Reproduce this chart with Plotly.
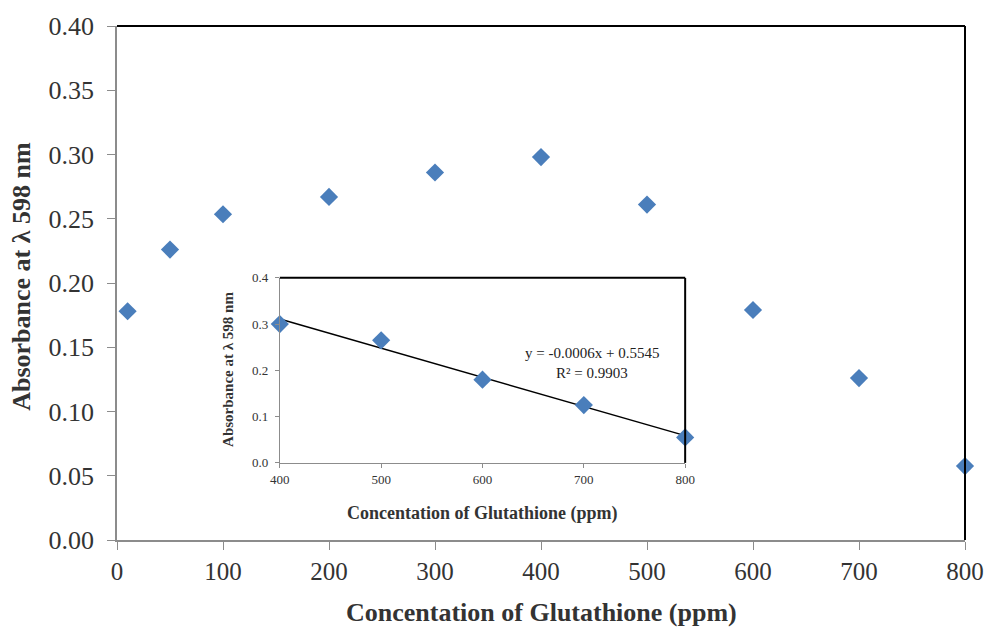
import numpy as np
import plotly.graph_objects as go

# Main data
conc = [10, 50, 100, 200, 300, 400, 500, 600, 700, 800]
absorb = [0.178, 0.226, 0.2535, 0.267, 0.286, 0.298, 0.261, 0.179, 0.126, 0.0575]

# Inset data (linear range)
inset_conc = [400, 500, 600, 700, 800]
inset_abs = [0.300, 0.265, 0.180, 0.125, 0.055]

main_xticks = [0, 100, 200, 300, 400, 500, 600, 700, 800]
main_yticks = [0.00, 0.05, 0.10, 0.15, 0.20, 0.25, 0.30, 0.35, 0.40]
inset_xticks = [400, 500, 600, 700, 800]
inset_yticks = [0.0, 0.1, 0.2, 0.3, 0.4]

eq_text = "y = -0.0006x + 0.5545"
r2_text = "R² = 0.9903"
x_title = "Concentation of Glutathione (ppm)"
y_title = "Absorbance at λ 598 nm"

MARK = "#4a7ebb"
SERIF = "Liberation Serif"
AXC = "#8c8c8c"
TXT = "#333333"

slope, intercept = np.polyfit(inset_conc, inset_abs, 1)
fit_x = [inset_conc[0], inset_conc[-1]]
fit_y = [slope * v + intercept for v in fit_x]

fig = go.Figure()
fig.add_trace(go.Scatter(x=conc, y=absorb, mode="markers",
                         marker=dict(symbol="diamond", size=14, color=MARK,
                                     line=dict(width=0)),
                         cliponaxis=False, showlegend=False))
fig.add_trace(go.Scatter(x=fit_x, y=fit_y, mode="lines",
                         line=dict(color="black", width=1.5),
                         xaxis="x2", yaxis="y2", cliponaxis=False, showlegend=False))
fig.add_trace(go.Scatter(x=inset_conc, y=inset_abs, mode="markers",
                         marker=dict(symbol="diamond", size=14, color=MARK,
                                     line=dict(width=0)),
                         xaxis="x2", yaxis="y2", cliponaxis=False, showlegend=False))

fig.update_layout(
    width=985, height=630,
    margin=dict(l=117, r=20, t=26, b=90),
    paper_bgcolor="white", plot_bgcolor="white",
    font=dict(family=SERIF, color=TXT),
    xaxis=dict(range=[0, 800], tickvals=main_xticks, showgrid=False, zeroline=False,
               showline=True, linecolor=AXC, linewidth=1.5, ticks="outside",
               tickcolor=AXC, ticklen=8, tickfont=dict(size=25, color=TXT),
               automargin=False),
    yaxis=dict(range=[0, 0.40], tickvals=main_yticks, tickformat=".2f", showgrid=False,
               zeroline=False, showline=True, linecolor=AXC, linewidth=1.5,
               ticks="outside", tickcolor=AXC, ticklen=8, ticklabelstandoff=8,
               tickfont=dict(size=26, color=TXT), automargin=False),
    xaxis2=dict(domain=[0.192, 0.670], anchor="y2", range=[400, 800],
                tickvals=inset_xticks, showgrid=False, zeroline=False, showline=True,
                linecolor=AXC, linewidth=1, ticks="outside", tickcolor=AXC, ticklen=4,
                tickfont=dict(size=13, color=TXT), automargin=False),
    yaxis2=dict(domain=[0.150, 0.510], anchor="x2", range=[0, 0.4],
                tickvals=inset_yticks, tickformat=".1f", showgrid=False, zeroline=False,
                showline=True, linecolor=AXC, linewidth=1, ticks="outside",
                tickcolor=AXC, ticklen=4, ticklabelstandoff=4,
                tickfont=dict(size=13, color=TXT), automargin=False),
)

# black top/right frame lines for main and inset
for xr, yr, w in [("x domain", "y domain", 2), ("x2 domain", "y2 domain", 2)]:
    fig.add_shape(type="line", xref=xr, yref=yr, x0=0, x1=1, y0=1, y1=1,
                  line=dict(color="black", width=w))
    fig.add_shape(type="line", xref=xr, yref=yr, x0=1, x1=1, y0=0, y1=1,
                  line=dict(color="black", width=w))

# axis titles
fig.add_annotation(xref="paper", yref="paper", x=0.501, y=-0.142, text="<b>" + x_title + "</b>",
                   showarrow=False, xanchor="center", yanchor="middle",
                   font=dict(size=26, color=TXT, family=SERIF))
fig.add_annotation(xref="paper", yref="paper", x=-0.112, y=0.512, text="<b>" + y_title + "</b>",
                   showarrow=False, xanchor="center", yanchor="middle", textangle=-90,
                   font=dict(size=26, color=TXT, family=SERIF))
fig.add_annotation(xref="paper", yref="paper", x=0.431, y=0.0525, text="<b>" + x_title + "</b>",
                   showarrow=False, xanchor="center", yanchor="middle",
                   font=dict(size=18, color=TXT, family=SERIF))
fig.add_annotation(xref="paper", yref="paper", x=0.131, y=0.331, text="<b>" + y_title + "</b>",
                   showarrow=False, xanchor="center", yanchor="middle", textangle=-90,
                   font=dict(size=15, color=TXT, family=SERIF))

# trendline equation
fig.add_annotation(x=708, y=0.238, xref="x2", yref="y2", text=eq_text, showarrow=False,
                   font=dict(size=15, color="#222222", family=SERIF))
fig.add_annotation(x=708, y=0.195, xref="x2", yref="y2", text=r2_text, showarrow=False,
                   font=dict(size=15, color="#222222", family=SERIF))

fig.write_html("out.html", config={"displayModeBar": False},
               post_script="document.body.style.margin='0px';document.body.style.overflow='hidden';")
